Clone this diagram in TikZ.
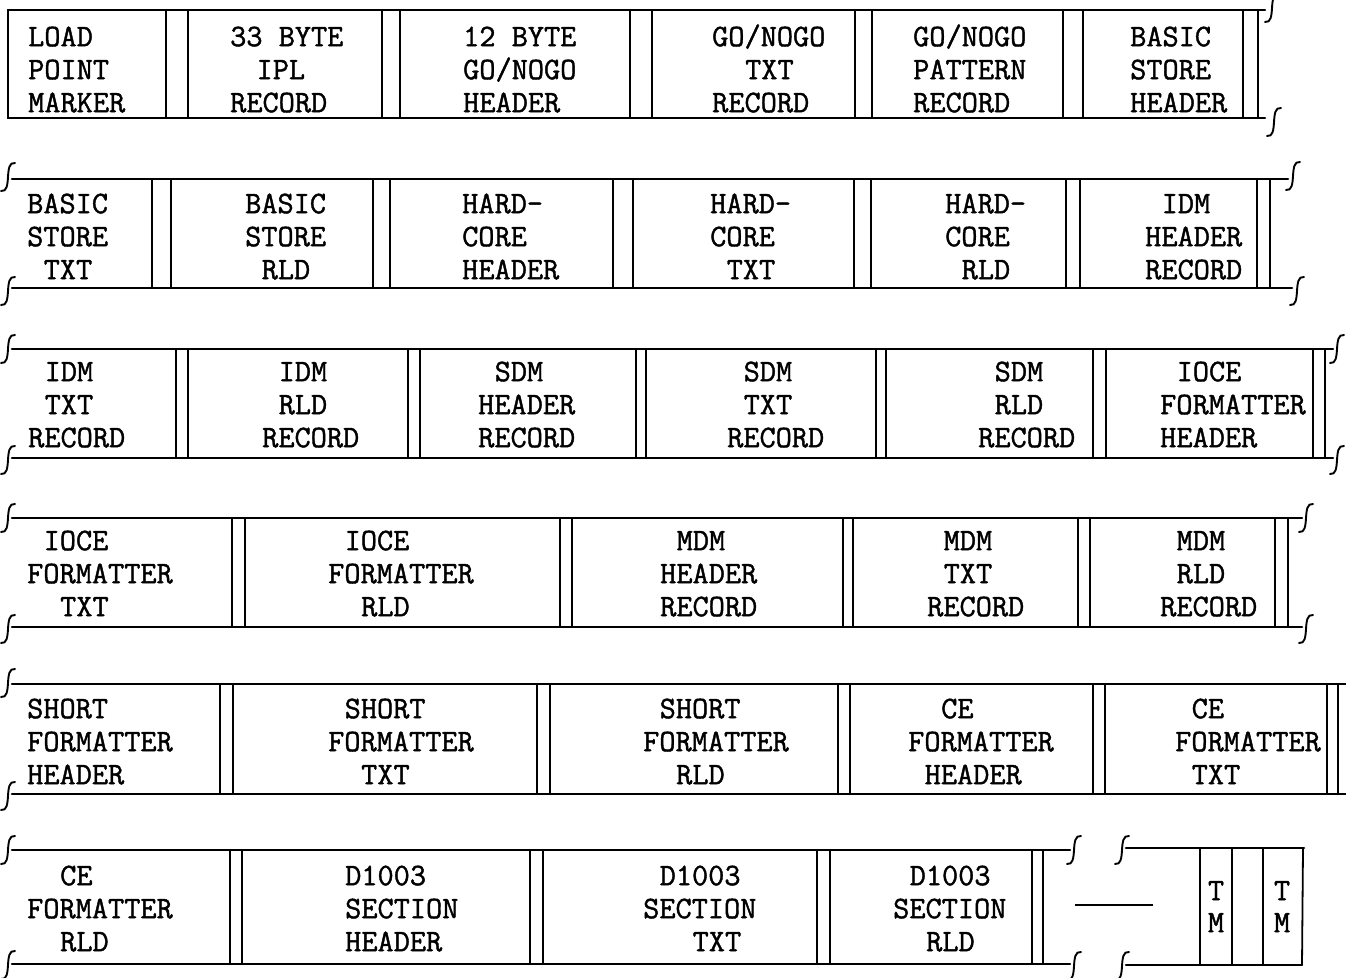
\documentclass[tikz,border=0pt]{standalone}
\usepackage{fontspec}
\newfontfamily\twfont{Latin Modern Mono}[FakeBold=1.3]
\newcommand\pd[1]{\hspace*{#1\dimexpr0.525em\relax}}
\newcommand\brkmk[2]{\draw[brkline] ({#1-7},{#2+14}) .. controls ({#1+5},{#2+16}) and ({#1-5},{#2-16}) .. ({#1+7},{#2-14});}
\tikzset{
  hline/.style={line width=2.6pt, line cap=round},
  vline/.style={line width=1.8pt},
  brkline/.style={line width=1.9pt, line cap=round},
  lbl/.style={font=\fontsize{31.4}{33}\selectfont\twfont, align=left, anchor=north west, inner sep=0pt},
  tmlbl/.style={font=\fontsize{31.4}{32}\selectfont\twfont, align=center, anchor=north, inner sep=0pt},
}
\newcommand\fl{\rule{0pt}{25pt}}
\begin{document}
\begin{tikzpicture}[x=1pt,y=-1pt]
\useasboundingbox (0,0) rectangle (1346,977);
% ---------- Row 1 ----------
\draw[hline] (1265,10) -- (8,10) -- (8,118) -- (1265,118);
\foreach \a/\b in {166/188,382/400,630/652,855/872,1063/1083,1243/1258}{
  \draw[vline] (\a,10) -- (\a,118); \draw[vline] (\b,10) -- (\b,118);}
\brkmk{1272}{8}\brkmk{1274}{122}
\node[lbl] (a1) at (28,{46-25}) {\fl LOAD\\POINT\\MARKER};
\node[lbl] (a2) at (230,{46-25}) {\fl 33 BYTE\\\pd{1.6}IPL\\RECORD};
\node[lbl] (a3) at (463,{46-25}) {\fl 12 BYTE\\GO/NOGO\\HEADER};
\node[lbl] (a4) at (712,{46-25}) {\fl GO/NOGO\\\pd{2}TXT\\RECORD};
\node[lbl] (a5) at (913,{46-25}) {\fl GO/NOGO\\PATTERN\\RECORD};
\node[lbl] (a6) at (1130,{46-25}) {\fl BASIC\\STORE\\HEADER};
% ---------- Row 2 ----------
\draw[hline] (12,179) -- (1288,179);
\draw[hline] (12,288) -- (1292,288);
\foreach \a/\b in {152/171,373/390,613/633,854/871,1066/1080,1257/1270}{
  \draw[vline] (\a,179) -- (\a,288); \draw[vline] (\b,179) -- (\b,288);}
\brkmk{8}{177}\brkmk{8}{291}\brkmk{1293}{176}\brkmk{1297}{291}
\node[lbl] (b1) at (27,{213-25}) {\fl BASIC\\STORE\\\pd{1}TXT};
\node[lbl] (b2) at (245,{213-25}) {\fl BASIC\\STORE\\\pd{1}RLD};
\node[lbl] (b3) at (462,{213-25}) {\fl HARD-\\CORE\\HEADER};
\node[lbl] (b4) at (710,{213-25}) {\fl HARD-\\CORE\\\pd{1}TXT};
\node[lbl] (b5) at (945,{213-25}) {\fl HARD-\\CORE\\\pd{1}RLD};
\node[lbl] (b6) at (1145,{213-25}) {\fl \pd{1}IDM\\HEADER\\RECORD};
% ---------- Row 3 ----------
\draw[hline] (12,349) -- (1333,349);
\draw[hline] (12,458) -- (1333,458);
\foreach \a/\b in {176/188,408/420,636/646,876/886,1093/1106,1313/1325}{
  \draw[vline] (\a,349) -- (\a,458); \draw[vline] (\b,349) -- (\b,458);}
\brkmk{8}{349}\brkmk{8}{460}\brkmk{1337}{349}\brkmk{1337}{460}
\node[lbl] (c1) at (28,{381-25}) {\fl \pd{1}IDM\\\pd{1}TXT\\RECORD};
\node[lbl] (c2) at (262,{381-25}) {\fl \pd{1}IDM\\\pd{1}RLD\\RECORD};
\node[lbl] (c3) at (478,{381-25}) {\fl \pd{1}SDM\\HEADER\\RECORD};
\node[lbl] (c4) at (727,{381-25}) {\fl \pd{1}SDM\\\pd{1}TXT\\RECORD};
\node[lbl] (c5) at (978,{381-25}) {\fl \pd{1}SDM\\\pd{1}RLD\\RECORD};
\node[lbl] (c6) at (1160,{381-25}) {\fl \pd{1}IOCE\\FORMATTER\\HEADER};
% ---------- Row 4 ----------
\draw[hline] (12,518) -- (1302,518);
\draw[hline] (12,627) -- (1302,627);
\foreach \a/\b in {232/245,560/572,843/853,1078/1090,1275/1288}{
  \draw[vline] (\a,518) -- (\a,627); \draw[vline] (\b,518) -- (\b,627);}
\brkmk{8}{518}\brkmk{8}{629}\brkmk{1306}{518}\brkmk{1306}{629}
\node[lbl] (d1) at (27,{550-25}) {\fl \pd{1}IOCE\\FORMATTER\\\pd{2}TXT};
\node[lbl] (d2) at (328,{550-25}) {\fl \pd{1}IOCE\\FORMATTER\\\pd{2}RLD};
\node[lbl] (d3) at (660,{550-25}) {\fl \pd{1}MDM\\HEADER\\RECORD};
\node[lbl] (d4) at (927,{550-25}) {\fl \pd{1}MDM\\\pd{1}TXT\\RECORD};
\node[lbl] (d5) at (1160,{550-25}) {\fl \pd{1}MDM\\\pd{1}RLD\\RECORD};
% ---------- Row 5 ----------
\draw[hline] (12,684) -- (1346,684);
\draw[hline] (12,794) -- (1346,794);
\foreach \a/\b in {220/233,537/550,838/850,1093/1105,1327/1338}{
  \draw[vline] (\a,684) -- (\a,794); \draw[vline] (\b,684) -- (\b,794);}
\brkmk{8}{683}\brkmk{8}{796}
\node[lbl] (e1) at (27,{718-25}) {\fl SHORT\\FORMATTER\\HEADER};
\node[lbl] (e2) at (328,{718-25}) {\fl \pd{1}SHORT\\FORMATTER\\\pd{2}TXT};
\node[lbl] (e3) at (643,{718-25}) {\fl \pd{1}SHORT\\FORMATTER\\\pd{2}RLD};
\node[lbl] (e4) at (908,{718-25}) {\fl \pd{2}CE\\FORMATTER\\\pd{1}HEADER};
\node[lbl] (e5) at (1175,{718-25}) {\fl \pd{1}CE\\FORMATTER\\\pd{1}TXT};
% ---------- Row 6 ----------
\draw[hline] (12,850) -- (1070,850);
\draw[hline] (12,964) -- (1070,964);
\foreach \a/\b in {230/242,530/543,817/830,1032/1043}{
  \draw[vline] (\a,850) -- (\a,964); \draw[vline] (\b,850) -- (\b,964);}
\brkmk{8}{850}\brkmk{8}{965}\brkmk{1074}{850}\brkmk{1074}{966}
\brkmk{1122}{850}\brkmk{1122}{966}
\draw[hline] (1126,848) -- (1304,848);
\draw[hline] (1126,965) -- (1302,965);
\foreach \a in {1200,1232,1263}{\draw[vline] (\a,848) -- (\a,965);}
\draw[vline] (1303,848) -- (1302,965);
\coordinate (gapL) at (1075,905);
\coordinate (gapR) at (1153,905);
\draw[vline] (gapL) -- (gapR);
\node[lbl] (f1) at (27,{885-25}) {\fl \pd{2}CE\\FORMATTER\\\pd{2}RLD};
\node[lbl] (f2) at (345,{885-25}) {\fl D1003\\SECTION\\HEADER};
\node[lbl] (f3) at (643,{885-25}) {\fl \pd{1}D1003\\SECTION\\\pd{3}TXT};
\node[lbl] (f4) at (893,{885-25}) {\fl \pd{1}D1003\\SECTION\\\pd{2}RLD};
\node[tmlbl] (tm1) at (1216,{900-25}) {\fl T\\M};
\node[tmlbl] (tm2) at (1282,{900-25}) {\fl T\\M};
\end{tikzpicture}
\end{document}
